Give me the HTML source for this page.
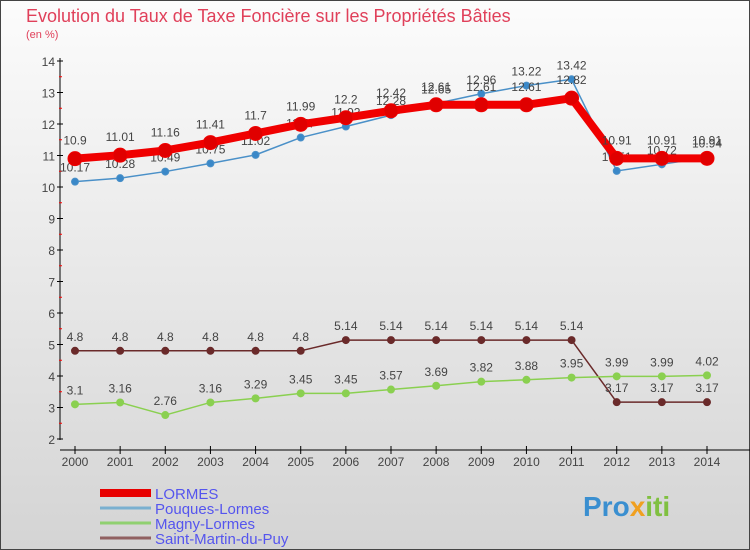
<!DOCTYPE html>
<html><head><meta charset="utf-8"><style>
body{margin:0;width:750px;height:550px;overflow:hidden;font-family:"Liberation Sans",sans-serif}
svg{display:block}
</style></head><body>
<svg id="chart" width="750" height="550">
<defs><linearGradient id="bg" x1="0" y1="0" x2="0" y2="1"><stop offset="0" stop-color="#fcfcfc"/><stop offset="1" stop-color="#d4d4d4"/></linearGradient></defs>
<rect width="750" height="550" fill="url(#bg)"/>
<rect x="0.5" y="0.5" width="749" height="549" fill="none" stroke="#444"/>
<text x="26" y="22" font-size="18" fill="#e0405a">Evolution du Taux de Taxe Foncière sur les Propriétés Bâties</text>
<text x="26" y="38" font-size="11" fill="#e0405a">(en %)</text>
<g id="axes"></g>
<g id="series"></g>
<g id="legend"></g>
<text x="583" y="516" font-size="28" font-weight="bold" fill="#3a8fd0">Pro<tspan fill="#f0a020">x</tspan><tspan fill="#80c040">iti</tspan></text>
</svg>
<script>
const years=[2000,2001,2002,2003,2004,2005,2006,2007,2008,2009,2010,2011,2012,2013,2014];
const lormes=[10.9,11.01,11.16,11.41,11.7,11.99,12.2,12.42,12.61,12.61,12.61,12.82,10.91,10.91,10.91];
const pouques=[10.17,10.28,10.49,10.75,11.02,11.57,11.92,12.28,12.65,12.96,13.22,13.42,10.51,10.72,10.94];
const magny=[3.1,3.16,2.76,3.16,3.29,3.45,3.45,3.57,3.69,3.82,3.88,3.95,3.99,3.99,4.02];
const saint=[4.8,4.8,4.8,4.8,4.8,4.8,5.14,5.14,5.14,5.14,5.14,5.14,3.17,3.17,3.17];
const yTicks=[2,3,4,5,6,7,8,9,10,11,12,13,14];
const NS='http://www.w3.org/2000/svg';
const X=i=>75+i*(707-75)/(years.length-1);
const Y=v=>439-(v-2)*31.5;
function mk(tag,attrs,parent,txt){const e=document.createElementNS(NS,tag);for(const k in attrs)e.setAttribute(k,attrs[k]);if(txt!=null)e.textContent=txt;parent.appendChild(e);return e;}
const axes=document.getElementById('axes');
const ya=mk('line',{x1:60,y1:58,x2:60,y2:440,stroke:'#000'},axes);


yTicks.forEach(t=>{
  mk('line',{x1:57,x2:63,y1:Y(t),y2:Y(t),stroke:'#000'},axes);
  if(t<14){mk('line',{x1:59,x2:62,y1:Y(t+0.5),y2:Y(t+0.5),stroke:'#f00'},axes);}
  const l=mk('text',{x:55,y:Y(t)+5,'text-anchor':'end','font-size':12,fill:'#444'},axes,t);
  
  
});
const xa=mk('line',{x1:60,y1:450,x2:750,y2:450,stroke:'#000'},axes);


years.forEach((yr,i)=>{
  mk('line',{x1:X(i),x2:X(i),y1:446,y2:454,stroke:'#000'},axes);
  const l=mk('text',{x:X(i),y:466,'text-anchor':'middle','font-size':12,fill:'#444'},axes,yr);
  
  
});
const sg=document.getElementById('series');
function series(name,vals,color,w,r,ptFill,labOff){
  const g=mk('g',{},sg);
  
  
  const p=mk('polyline',{points:vals.map((v,i)=>X(i)+','+Y(v)).join(' '),fill:'none',stroke:color,'stroke-width':w,'stroke-linejoin':'round'},g);
  
  
  vals.forEach((v,i)=>{
    const c=mk('circle',{cx:X(i),cy:Y(v),r:r,fill:ptFill,stroke:color,'stroke-width':1},g);
    
    
    const t=mk('text',{x:X(i),y:Y(v)+labOff,'text-anchor':'middle','font-size':12,fill:'#444'},g,String(v));
    
    
  });
}
series('saint-martin',saint,'#6a2a2a',1.5,3.5,'#6a2a2a',-10);
series('magny',magny,'#8ad050',1.5,3.5,'#8ad050',-10);
series('pouques',pouques,'#4a90c8',1.5,3.5,'#3a88c8',-10);
series('lormes',lormes,'#f00000',8,7,'#e00000',-14);
const lg=document.getElementById('legend');
[['LORMES','#e80000',8],['Pouques-Lormes','#7ab0d0',3],['Magny-Lormes','#90d070',3],['Saint-Martin-du-Puy','#906060',3]].forEach((e,i)=>{
  const y=493+i*15;
  const l=mk('line',{x1:100,x2:151,y1:y,y2:y,stroke:e[1],'stroke-width':e[2]},lg);
  
  
  const t=mk('text',{x:155,y:y+6,'font-size':15,fill:'#5555ee'},lg,e[0]);
  
  
});
</script>
</body></html>
